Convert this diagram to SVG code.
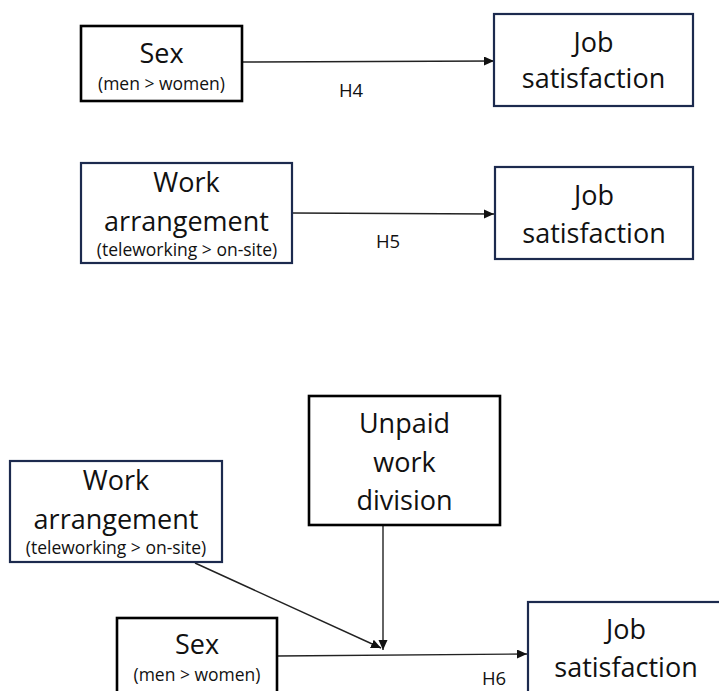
<svg xmlns="http://www.w3.org/2000/svg" width="719" height="691" viewBox="0 0 719 691">
  <defs>
    <style>
      .bk { fill: #ffffff; stroke: #000000; stroke-width: 2.6; }
      .nv { fill: #ffffff; stroke: #1c2a4e; stroke-width: 2.2; }
      .t { font-family: "Open Sans", "Liberation Sans", sans-serif; font-size: 27px; fill: #111111; text-anchor: middle; }
      .s { font-family: "Open Sans", "Liberation Sans", sans-serif; font-size: 17.5px; fill: #111111; text-anchor: middle; }
      .h { font-family: "Open Sans", "Liberation Sans", sans-serif; font-size: 18.5px; fill: #111111; text-anchor: middle; }
      .ln { stroke: #222222; stroke-width: 1.4; fill: none; marker-end: url(#ah); }
    </style>
    <marker id="ah" markerUnits="userSpaceOnUse" markerWidth="11" markerHeight="10" refX="10" refY="4.5" orient="auto">
      <path d="M0,0 L10,4.5 L0,9 z" fill="#111111"/>
    </marker>
  </defs>

  <g id="connectors">
    <line class="ln" x1="243" y1="62" x2="494" y2="61"/>
    <line class="ln" x1="292" y1="213" x2="494" y2="214"/>
    <line class="ln" x1="277" y1="656" x2="527" y2="654"/>
    <line class="ln" x1="383" y1="525" x2="383" y2="650"/>
    <line class="ln" x1="195" y1="563" x2="381" y2="648"/>
    <text class="h" x="351" y="97">H4</text>
    <text class="h" x="388" y="248">H5</text>
    <text class="h" x="494" y="685">H6</text>
  </g>

  <g id="sex1">
    <rect class="bk" x="81" y="26" width="161" height="75"/>
    <text class="t" x="161.5" y="63">Sex</text>
    <text class="s" x="161.5" y="90">(men &gt; women)</text>
  </g>

  <g id="job1">
    <rect class="nv" x="494" y="14" width="199" height="92"/>
    <text class="t" x="593.5" y="52">Job</text>
    <text class="t" x="593.5" y="88">satisfaction</text>
  </g>

  <g id="work1">
    <rect class="nv" x="81" y="163" width="211" height="100"/>
    <text class="t" x="186.5" y="192">Work</text>
    <text class="t" x="186.5" y="231">arrangement</text>
    <text class="s" x="187" y="256">(teleworking &gt; on-site)</text>
  </g>

  <g id="job2">
    <rect class="nv" x="495" y="167" width="198" height="92"/>
    <text class="t" x="594" y="205">Job</text>
    <text class="t" x="594" y="243">satisfaction</text>
  </g>

  <g id="unpaid">
    <rect class="bk" x="309" y="396" width="191" height="129"/>
    <text class="t" x="404.5" y="433">Unpaid</text>
    <text class="t" x="404.5" y="472">work</text>
    <text class="t" x="404.5" y="510">division</text>
  </g>

  <g id="work2">
    <rect class="nv" x="10" y="461" width="212" height="101"/>
    <text class="t" x="116" y="490">Work</text>
    <text class="t" x="116" y="529">arrangement</text>
    <text class="s" x="116" y="554">(teleworking &gt; on-site)</text>
  </g>

  <g id="sex2">
    <rect class="bk" x="117" y="618" width="160" height="80"/>
    <text class="t" x="197" y="654">Sex</text>
    <text class="s" x="197" y="681">(men &gt; women)</text>
  </g>

  <g id="job3">
    <rect class="nv" x="528" y="602" width="199" height="96"/>
    <text class="t" x="626" y="639">Job</text>
    <text class="t" x="626" y="677">satisfaction</text>
  </g>
</svg>
